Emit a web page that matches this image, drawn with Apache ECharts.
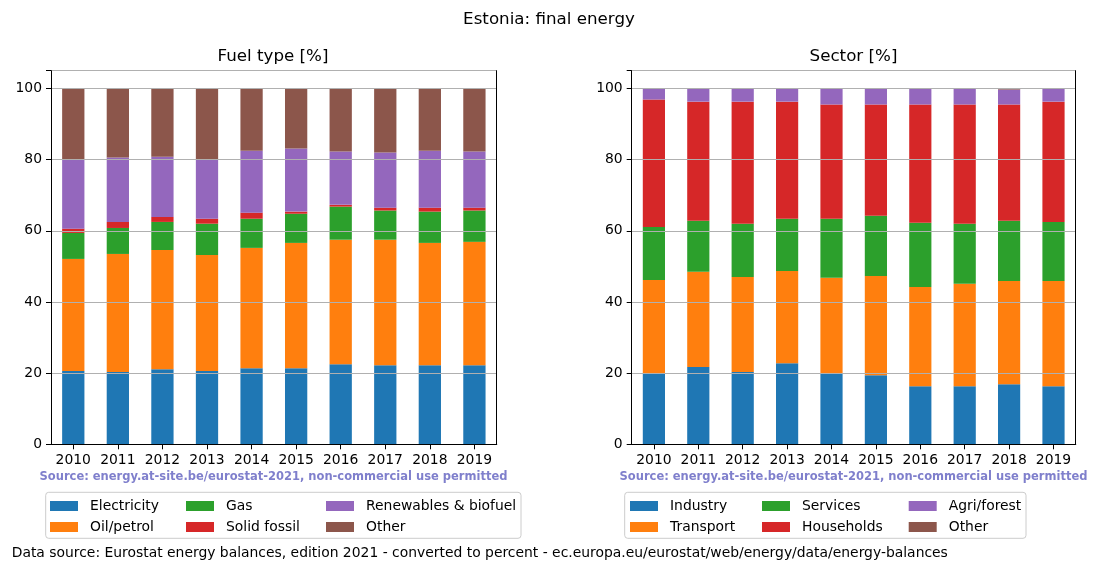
<!DOCTYPE html>
<html>
<head>
<meta charset="utf-8">
<script src="https://cdn.jsdelivr.net/npm/echarts@6/dist/echarts.min.js"></script>
<style>
html,body{margin:0;padding:0;background:#fff;}
#chart{width:1100px;height:572px;}
</style>
</head>
<body>
<div id="chart"></div>
<script>
// ---- data ----
const years = ['2010','2011','2012','2013','2014','2015','2016','2017','2018','2019'];
const yTicks = [0, 20, 40, 60, 80, 100];

const fuelNames = ['Electricity','Oil/petrol','Gas','Solid fossil','Renewables & biofuel','Other'];
const electricity = [20.6,20.3,21.1,20.6,21.4,21.4,22.5,22.2,22.2,22.2];
const oilPetrol   = [31.5,33.2,33.5,32.6,33.8,35.2,35.0,35.3,34.4,34.7];
const gas         = [7.3,7.3,7.9,8.8,8.2,8.2,9.3,8.2,8.8,8.8];
const solidFossil = [1.2,1.7,1.4,1.4,1.7,0.6,0.5,0.8,1.1,0.8];
const renewables  = [19.6,18.1,16.9,16.8,17.4,17.7,15.0,15.5,16.0,15.8];
const fuelOther   = [19.8,19.4,19.2,19.8,17.5,16.9,17.7,18.0,17.5,17.7];

const sectorNames = ['Industry','Transport','Services','Households','Agri/forest','Other'];
const industry    = [20.0,21.7,20.3,22.8,20.0,19.4,16.3,16.3,16.9,16.3];
const transport   = [26.2,26.8,26.7,25.9,26.8,27.9,27.9,28.8,29.0,29.6];
const services    = [14.9,14.3,15.0,14.7,16.6,16.9,18.1,16.9,16.9,16.6];
const households  = [35.8,33.5,34.3,32.9,32.1,31.3,33.2,33.5,32.7,33.8];
const agriForest  = [3.1,3.7,3.7,3.7,4.5,4.5,4.5,4.5,4.2,3.7];
const sectorOther = [0,0,0,0,0,0,0,0,0.3,0];

const mainTitle = 'Estonia: final energy';
const leftTitle = 'Fuel type [%]';
const rightTitle = 'Sector [%]';
const sourceNote = 'Source: energy.at-site.be/eurostat-2021, non-commercial use permitted';
const footer = 'Data source: Eurostat energy balances, edition 2021 - converted to percent - ec.europa.eu/eurostat/web/energy/data/energy-balances';

// ---- styling ----
const colors = ['#1f77b4','#ff7f0e','#2ca02c','#d62728','#9467bd','#8c564b'];
const FONT = 'DejaVu Sans';
const fuelData = [electricity, oilPetrol, gas, solidFossil, renewables, fuelOther];
const sectorData = [industry, transport, services, households, agriForest, sectorOther];

const grids = [
  {left: 51, right: 603.3, top: 70.7, bottom: 127.7},
  {left: 631.7, right: 24.3, top: 70.7, bottom: 127.7}
];

function mkX(gi) {
  return {
    type: 'category', gridIndex: gi, data: years,
    axisLine: {show: true, lineStyle: {color: '#000', width: 1}},
    axisTick: {show: true, alignWithLabel: true, length: 5, lineStyle: {color: '#000'}},
    axisLabel: {color: '#000', fontFamily: FONT, fontSize: 13.9, margin: 9, interval: 0},
    splitLine: {show: false}
  };
}
function mkXTop(gi) {
  return {
    type: 'category', gridIndex: gi, data: years, position: 'top', z: 10,
    axisLine: {show: true, lineStyle: {color: '#000', width: 1}},
    axisTick: {show: false}, axisLabel: {show: false}, splitLine: {show: false}
  };
}
function mkY(gi) {
  return {
    type: 'value', gridIndex: gi, min: 0, max: 105, interval: 20, z: 5,
    axisLine: {show: true, lineStyle: {color: '#000', width: 1}},
    axisTick: {show: true, length: 5, lineStyle: {color: '#000'}},
    axisLabel: {color: '#000', fontFamily: FONT, fontSize: 13.9, margin: 9,
      formatter: v => (yTicks.indexOf(v) >= 0 ? String(v) : '')},
    splitLine: {show: true, lineStyle: {color: '#b0b0b0', width: 1}}
  };
}
function mkYRight(gi) {
  return {
    type: 'value', gridIndex: gi, min: 0, max: 105, position: 'right', z: 10,
    axisLine: {show: true, lineStyle: {color: '#000', width: 1}},
    axisTick: {show: false}, axisLabel: {show: false}, splitLine: {show: false}
  };
}

const series = [];
fuelNames.forEach((n, i) => series.push({
  name: n, type: 'bar', stack: 'fuel', xAxisIndex: 0, yAxisIndex: 0,
  barWidth: '50%', data: fuelData[i], itemStyle: {color: colors[i]}, z: 2
}));
sectorNames.forEach((n, i) => series.push({
  name: n, type: 'bar', stack: 'sector', xAxisIndex: 1, yAxisIndex: 1,
  barWidth: '50%', data: sectorData[i], itemStyle: {color: colors[i]}, z: 2
}));

function mkLegend(names, left) {
  return {
    orient: 'vertical', left: left, top: 499, itemWidth: 28, itemHeight: 10, itemGap: 7,
    selectedMode: false, icon: 'rect', padding: 0,
    textStyle: {fontFamily: FONT, fontSize: 13.9, color: '#000', padding: [0, 0, 0, 7], lineHeight: 14},
    data: names
  };
}

const legends = [
  mkLegend([fuelNames[0], fuelNames[1]], 50),
  mkLegend([fuelNames[2], fuelNames[3]], 186),
  mkLegend([fuelNames[4], fuelNames[5]], 326),
  mkLegend([sectorNames[0], sectorNames[1]], 630),
  mkLegend([sectorNames[2], sectorNames[3]], 762),
  mkLegend([sectorNames[4], sectorNames[5]], 908.7)
];

function txt(x, y, s, size, opts) {
  return Object.assign({
    type: 'text', x: x, y: y, z: 20,
    style: Object.assign({text: s, fontFamily: FONT, fontSize: size, fill: '#000',
      textAlign: 'center', textVerticalAlign: 'middle'}, opts || {})
  });
}

const graphics = [
  {type: 'rect', shape: {x: 45.7, y: 492.3, width: 475.3, height: 46, r: 3}, z: -1,
    style: {fill: 'rgba(255,255,255,0.8)', stroke: '#cccccc', lineWidth: 1}},
  {type: 'rect', shape: {x: 624.7, y: 492.3, width: 401.3, height: 46, r: 3}, z: -1,
    style: {fill: 'rgba(255,255,255,0.8)', stroke: '#cccccc', lineWidth: 1}},
  txt(549, 19.3, mainTitle, 16.7),
  txt(273, 56.7, leftTitle, 16.7),
  txt(853.5, 56.7, rightTitle, 16.7),
  txt(273.5, 476.7, sourceNote, 11.5, {fill: '#7f7fcc', fontWeight: 'bold'}),
  txt(853.5, 476.7, sourceNote, 11.5, {fill: '#7f7fcc', fontWeight: 'bold'}),
  txt(11.7, 553.3, footer, 13.9, {textAlign: 'left'})
];

const chart = echarts.init(document.getElementById('chart'), null, {renderer: 'canvas'});
chart.setOption({
  animation: false,
  backgroundColor: '#fff',
  grid: grids,
  xAxis: [mkX(0), mkX(1), mkXTop(0), mkXTop(1)],
  yAxis: [mkY(0), mkY(1), mkYRight(0), mkYRight(1)],
  legend: legends,
  series: series,
  graphic: graphics
});
</script>
</body>
</html>
